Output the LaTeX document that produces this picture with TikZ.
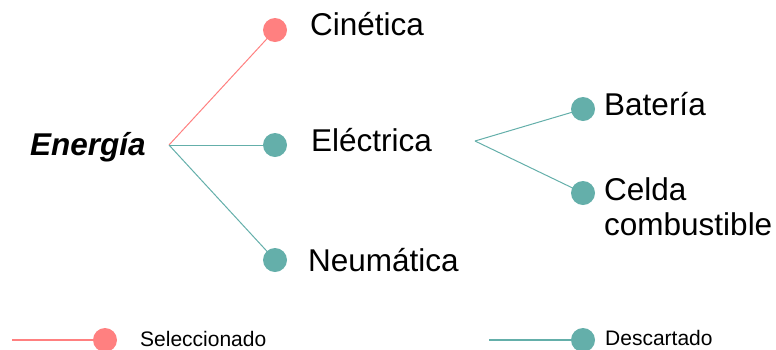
\documentclass[tikz,border=0pt]{standalone}
\usepackage{fontspec}
\setmainfont{Liberation Sans}
\usetikzlibrary{positioning}
\definecolor{selpink}{RGB}{255,128,128}
\definecolor{desteal}{RGB}{100,175,170}
\tikzset{lbl/.style={inner sep=0,anchor=base west,align=left,font=\fontsize{31.5}{35}\selectfont},keylbl/.style={inner sep=0,anchor=base west,font=\fontsize{21}{24}\selectfont},selbul/.style={circle,inner sep=0,minimum size=24pt,fill=selpink},desbul/.style={selbul,fill=desteal},selln/.style={draw=selpink,line width=1pt},desln/.style={draw=desteal,line width=1pt}}

\begin{document}
\begin{tikzpicture}[x=1pt,y=-1pt]
\useasboundingbox (0,0) rectangle (776,349);
\node[lbl,font=\fontsize{31.5}{35}\selectfont\bfseries\itshape] (energia) at (30,155) {Energía};
\coordinate (root) at (169,145);
\coordinate (fork) at (475,141);
% primer nivel
\node[selbul] (cin) at (275,30) {};
\node[desbul] (ele) at (275,145) {};
\node[desbul] (neu) at (275,260) {};
\node[lbl] (cintxt) at (310,35) {Cinética};
\node[lbl] (eletxt) at (311,151) {Eléctrica};
\node[lbl] (neutxt) at (308,271) {Neumática};
\draw[selln] (root)--(cin.center);\draw[desln] (root)--(ele.center);\draw[desln] (root)--(neu.center);
% segundo nivel
\node[desbul] (bat) at (583,109) {};
\node[desbul] (cel) at (583,193) {};
\node[lbl] (battxt) at (604,115) {Batería};
\node[lbl] (celtxt) at (604,235) {Celda\\combustible};
\draw[desln] (fork)--(bat.center);\draw[desln] (fork)--(cel.center);
% leyenda
\coordinate (selstart) at (12,340);
\coordinate (desstart) at (489,340);
\node[selbul] (selkey) at (105,340) {};
\node[desbul] (deskey) at (583,340) {};
\node[keylbl] (seltxt) at (140,346) {Seleccionado};
\node[keylbl] (destxt) at (605,345) {Descartado};
\draw[selln,line width=2pt] (selstart)--(selkey);\draw[desln,line width=2pt] (desstart)--(deskey);
\end{tikzpicture}
\end{document}
